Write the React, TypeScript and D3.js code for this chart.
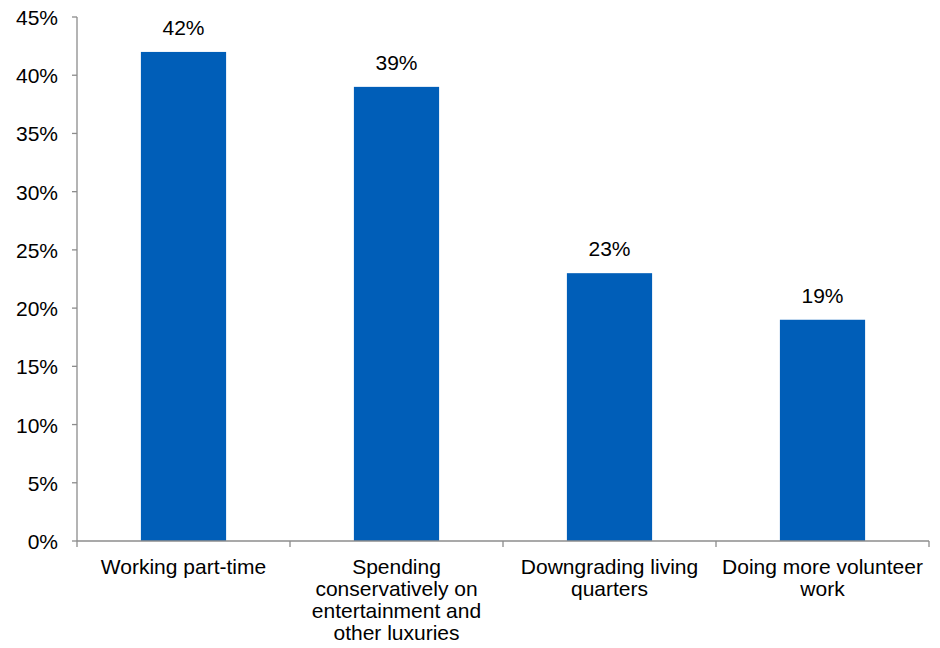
import React from "react";
import * as d3 from "d3";

const categories = [
  "Working part-time",
  "Spending\nconservatively on\nentertainment and\nother luxuries",
  "Downgrading living\nquarters",
  "Doing more volunteer\nwork",
];
const values = [42, 39, 23, 19];
const yTicks = [0, 5, 10, 15, 20, 25, 30, 35, 40, 45];

const W = 940;
const H = 648;
const margin = { left: 77, right: 11, top: 17, bottom: 107 };
const FONT = "'Liberation Sans', Arial, sans-serif";
const FS = 21;
const BAR = "#005EB8";
const AXIS = "#8C8C8C";

export default function App() {
  const x = d3
    .scaleBand<string>()
    .domain(categories)
    .range([margin.left, W - margin.right])
    .paddingInner(0.6)
    .paddingOuter(0.3);
  const y = d3
    .scaleLinear()
    .domain([0, 45])
    .range([H - margin.bottom, margin.top]);
  const step = x.step();
  const y0 = y(0);

  return (
    <svg
      width={W}
      height={H}
      style={{ position: "absolute", left: 0, top: 0, background: "#fff" }}
      fontFamily={FONT}
    >
      {/* bars */}
      {categories.map((c, i) => (
        <rect
          key={c}
          x={x(c)}
          y={y(values[i])}
          width={x.bandwidth()}
          height={y0 - y(values[i])}
          fill={BAR}
        />
      ))}
      {/* value labels */}
      {categories.map((c, i) => (
        <text
          key={c + "v"}
          x={(x(c) as number) + x.bandwidth() / 2}
          y={y(values[i]) - 17}
          textAnchor="middle"
          fontSize={FS}
          fill="#000"
        >
          {values[i]}%
        </text>
      ))}
      {/* y axis */}
      <line x1={margin.left} x2={margin.left} y1={y(45)} y2={y0} stroke={AXIS} strokeWidth={1.3} />
      {yTicks.map((t) => (
        <g key={t}>
          <line x1={margin.left - 5} x2={margin.left} y1={y(t)} y2={y(t)} stroke={AXIS} strokeWidth={1.3} />
          <text x={58} y={y(t) + 8} textAnchor="end" fontSize={FS} fill="#000">
            {t}%
          </text>
        </g>
      ))}
      {/* x axis */}
      <line x1={margin.left} x2={W - margin.right} y1={y0} y2={y0} stroke={AXIS} strokeWidth={1.3} />
      {categories.map((c) => {
        const left = (x(c) as number) - x.paddingOuter() * step;
        return (
          <line
            key={c + "t"}
            x1={left + step}
            x2={left + step}
            y1={y0}
            y2={y0 + 6}
            stroke={AXIS}
            strokeWidth={1.3}
          />
        );
      })}
      <line x1={margin.left} x2={margin.left} y1={y0} y2={y0 + 6} stroke={AXIS} strokeWidth={1.3} />
      {categories.map((c) => (
        <text
          key={c + "l"}
          x={(x(c) as number) + x.bandwidth() / 2}
          y={y0 + 33}
          textAnchor="middle"
          fontSize={FS}
          fill="#000"
        >
          {c.split("\n").map((line, j) => (
            <tspan key={j} x={(x(c) as number) + x.bandwidth() / 2} dy={j === 0 ? 0 : 22}>
              {line}
            </tspan>
          ))}
        </text>
      ))}
    </svg>
  );
}
